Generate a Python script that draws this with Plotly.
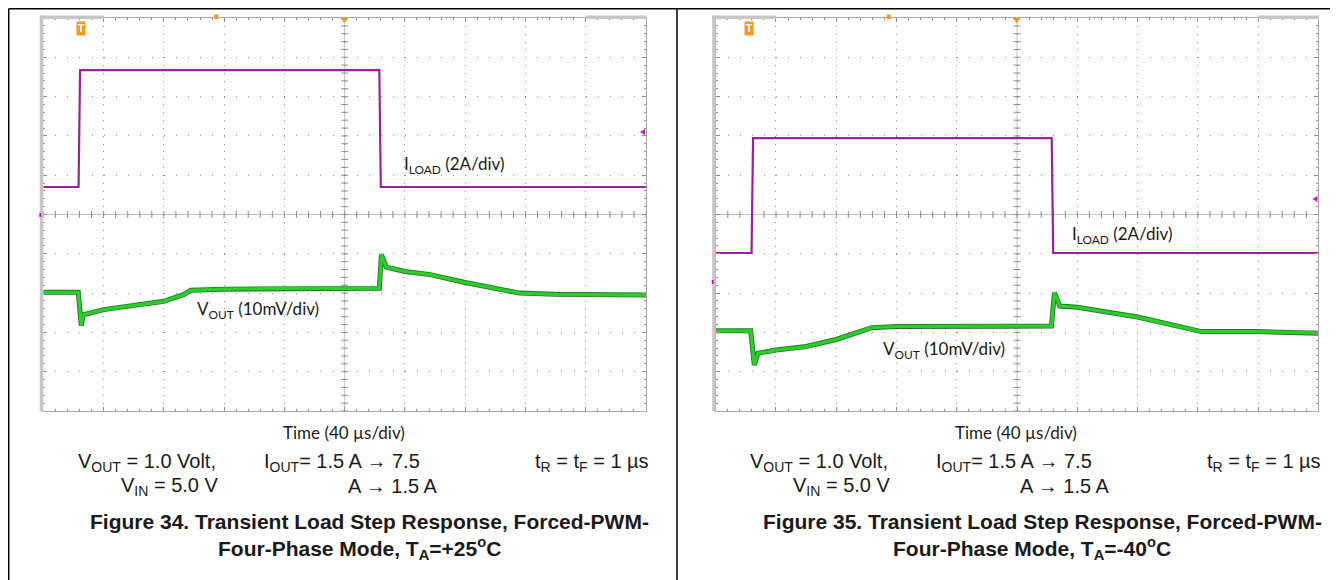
"""
Two oscilloscope captures: transient load step response (Figure 34 / 35).
"""
import numpy as np
import plotly.graph_objects as go

# the page body keeps an 8 px margin, so the figure is 8 px smaller each way
PAGE_OFF = 8
W, H = 1338 - PAGE_OFF, 580 - PAGE_OFF

# ---- data (time in us, 40 us/div) ----
# Figure 34, TA = +25 C
iload_t_25 = [0, 23.4, 24.4, 223.0, 224.0, 400]
iload_a_25 = [1.5, 1.5, 7.45, 7.45, 1.5, 1.5]
vout_t_25 = [0, 23.2, 25.2, 26.4, 40, 60, 80, 93, 98, 120, 160, 223.0,
             224.4, 227.6, 240, 256.8, 280, 316, 340, 400]
vout_mv_25 = [0.2, 0.2, -8.3, -5.5, -4.2, -3.2, -2.1, -0.4, 0.7, 1.0, 1.2, 1.2,
              9.8, 6.6, 5.5, 4.7, 2.7, 0.0, -0.3, -0.5]

# Figure 35, TA = -40 C
iload_t_m40 = [0, 23.8, 24.8, 223.0, 224.0, 400]
iload_a_m40 = [1.5, 1.5, 7.35, 7.35, 1.5, 1.5]
vout_t_m40 = [0, 23.2, 25.6, 28, 40, 60, 80, 103.6, 120, 160, 222.8,
              224.8, 228.4, 240, 280, 322.4, 360, 400]
vout_mv_m40 = [0.4, 0.4, -8.3, -5.3, -4.5, -3.6, -1.8, 1.2, 1.5, 1.6, 1.6,
               10.1, 6.7, 6.4, 3.9, 0.2, 0.2, -0.2]

MAGENTA = "#9c1f9c"
GREEN = "#2bcf2b"
GREEN_DARK = "#257a25"
GRID = "#8c8c8c"


def px(x):
    return (x - PAGE_OFF) / W


def py(y):
    return 1 - (y - PAGE_OFF) / H


panels = [
    dict(dx=0.0, it=iload_t_25, ia=iload_a_25, vt=vout_t_25, vm=vout_mv_25,
         i_off=4.95, v_off=3.0, fig_no="34", temp="+25",
         iload_lbl=(401.7, 165), vout_lbl=(195, 310), chmark=(215, 132)),
    dict(dx=672.4, it=iload_t_m40, ia=iload_a_m40, vt=vout_t_m40, vm=vout_mv_m40,
         i_off=3.27, v_off=2.0, fig_no="35", temp="-40",
         iload_lbl=(1070, 235), vout_lbl=(881, 350), chmark=(282, 199)),
]

fig = go.Figure()
shapes = []
annotations = []

for k, p in enumerate(panels):
    sfx = "" if k == 0 else str(k + 1)
    xa, ya = "x" + sfx, "y" + sfx
    dx = p["dx"]
    gx0, gx1 = 43.3 + dx, 646.0 + dx

    # graticule centre ticks
    fig.add_trace(go.Scatter(x=np.arange(0, 401, 8), y=[5] * 51, xaxis=xa, yaxis=ya,
                             mode="markers", hoverinfo="skip",
                             marker=dict(symbol="line-ns", size=5, line=dict(width=1, color=GRID))))
    fig.add_trace(go.Scatter(x=[200] * 51, y=np.arange(0, 10.01, 0.2), xaxis=xa, yaxis=ya,
                             mode="markers", hoverinfo="skip",
                             marker=dict(symbol="line-ew", size=5, line=dict(width=1, color=GRID))))

    # channel traces: ILOAD 2 A/div, VOUT 10 mV/div
    fig.add_trace(go.Scatter(x=p["it"], y=[p["i_off"] + a / 2 for a in p["ia"]],
                             xaxis=xa, yaxis=ya, mode="lines",
                             line=dict(color=MAGENTA, width=2.2)))
    vy = [p["v_off"] + m / 10 for m in p["vm"]]
    fig.add_trace(go.Scatter(x=p["vt"], y=vy, xaxis=xa, yaxis=ya, mode="lines",
                             line=dict(color=GREEN_DARK, width=5)))
    fig.add_trace(go.Scatter(x=p["vt"], y=vy, xaxis=xa, yaxis=ya, mode="lines",
                             line=dict(color=GREEN, width=3.2)))

    axis_common = dict(showticklabels=False, zeroline=False, showline=True,
                       linecolor="#a8a8a8", mirror="ticks", ticks="inside",
                       ticklen=4, tickcolor=GRID, gridcolor=GRID, gridwidth=1,
                       fixedrange=True)
    fig.update_layout(**{
        "xaxis" + sfx: dict(axis_common, domain=[px(gx0), px(gx1)], range=[0, 400],
                            tick0=0, dtick=40, griddash="1px,6.85px", anchor=ya,
                            minor=dict(dtick=8, ticks="inside", ticklen=2, tickcolor=GRID)),
        "yaxis" + sfx: dict(axis_common, domain=[py(411), py(18)], range=[0, 10],
                            tick0=0, dtick=1, griddash="1px,11.05px", anchor=xa,
                            minor=dict(dtick=0.2, ticks="inside", ticklen=2, tickcolor=GRID)),
    })

    # centre cross lines
    shapes.append(dict(type="line", xref=xa, yref=ya, x0=200, x1=200, y0=0, y1=10,
                       line=dict(color="#c4c4c4", width=1), layer="below"))
    shapes.append(dict(type="line", xref=xa, yref=ya, x0=0, x1=400, y0=5, y1=5,
                       line=dict(color="#c4c4c4", width=1), layer="below"))

    # scope screen decorations
    shapes.append(dict(type="rect", xref="paper", yref="paper", x0=px(gx0 - 3.5), x1=px(gx0),
                       y0=py(411), y1=py(15.5), fillcolor="#c6c6c6", line_width=0))
    shapes.append(dict(type="rect", xref="paper", yref="paper", x0=px(gx0 - 3.5), x1=px(104 + dx),
                       y0=py(19), y1=py(15.5), fillcolor="#c6c6c6", line_width=0))
    shapes.append(dict(type="rect", xref="paper", yref="paper", x0=px(585.5 + dx), x1=px(gx1 + 0.5),
                       y0=py(19), y1=py(15.5), fillcolor="#c6c6c6", line_width=0))
    ym, yc = p["chmark"]
    shapes.append(dict(type="path", xref="paper", yref="paper",
                       path=f"M {px(gx1 - 6)} {py(yc)} L {px(gx1 - 1)} {py(yc - 3)} "
                            f"L {px(gx1 - 1)} {py(yc + 3)} Z",
                       fillcolor="#c020c0", line_width=0))
    shapes.append(dict(type="rect", xref="paper", yref="paper", x0=px(gx0 - 4), x1=px(gx0 - 2),
                       y0=py(ym + 2), y1=py(ym - 2), fillcolor="#c020c0", line_width=0))
    # trigger markers
    shapes.append(dict(type="path", xref="paper", yref="paper",
                       path=f"M {px(gx0 + 297)} {py(18)} L {px(gx0 + 305)} {py(18)} "
                            f"L {px(gx0 + 301)} {py(23)} Z",
                       fillcolor="#f29a1a", line_width=0))
    shapes.append(dict(type="rect", xref="paper", yref="paper", x0=px(gx0 + 171), x1=px(gx0 + 175),
                       y0=py(19), y1=py(14.5), fillcolor="#f29a1a", line_width=0))
    annotations.append(dict(x=px(gx0 + 33), y=py(28), xref="paper", yref="paper",
                            text="<b>T</b>", showarrow=False, bgcolor="#f29a1a",
                            font=dict(family="Liberation Sans", size=10, color="white"),
                            borderpad=1))

    # trace labels
    lx, ly = p["iload_lbl"]
    annotations.append(dict(x=px(lx), y=py(ly), xref="paper", yref="paper",
                            xanchor="left", yanchor="middle", showarrow=False,
                            text="I<sub>LOAD</sub> (2A/div)",
                            font=dict(family="Lato", size=17, color="#1a1a1a")))
    lx, ly = p["vout_lbl"]
    annotations.append(dict(x=px(lx), y=py(ly), xref="paper", yref="paper",
                            xanchor="left", yanchor="middle", showarrow=False,
                            text="V<sub>OUT</sub> (10mV/div)",
                            font=dict(family="Lato", size=17, color="#1a1a1a")))

    # texts below the capture
    cond = dict(family="Liberation Sans", size=20, color="#1a1a1a")
    cap = dict(family="Liberation Sans", size=21, color="#1a1a1a")
    annotations += [
        dict(x=px(344 + dx), y=py(432), xanchor="center", text="Time (40 µs/div)",
             font=dict(family="Lato", size=17, color="#1a1a1a")),
        dict(x=px(218 + dx), y=py(462), xanchor="right",
             text="V<sub>OUT</sub> = 1.0 Volt,", font=cond),
        dict(x=px(220 + dx), y=py(486), xanchor="right",
             text="V<sub>IN</sub> = 5.0 V", font=cond),
        dict(x=px(262 + dx), y=py(462), xanchor="left",
             text="I<sub>OUT</sub>= 1.5 A → 7.5", font=cond),
        dict(x=px(440 + dx), y=py(486), xanchor="right",
             text="A → 1.5 A", font=cond),
        dict(x=px(533 + dx), y=py(462), xanchor="left",
             text="t<sub>R</sub> = t<sub>F</sub> = 1 µs", font=cond),
        dict(x=px(370 + dx), y=py(521), xanchor="center",
             text=f"<b>Figure {p['fig_no']}. Transient Load Step Response, Forced-PWM-</b>",
             font=cap),
        dict(x=px(360 + dx), y=py(548), xanchor="center",
             text=f"<b>Four-Phase Mode, T<sub>A</sub>={p['temp']}<sup>o</sup>C</b>",
             font=cap),
    ]

for a in annotations:
    a.setdefault("xref", "paper")
    a.setdefault("yref", "paper")
    a.setdefault("showarrow", False)
    a.setdefault("yanchor", "middle")

# page frame
shapes += [
    dict(type="line", xref="paper", yref="paper", x0=px(8.7), x1=1, y0=py(8.7), y1=py(8.7),
         line=dict(color="black", width=1.5)),
    dict(type="line", xref="paper", yref="paper", x0=px(8.7), x1=px(8.7), y0=py(8.7), y1=0,
         line=dict(color="black", width=1.5)),
    dict(type="line", xref="paper", yref="paper", x0=px(677), x1=px(677), y0=py(8.7), y1=0,
         line=dict(color="black", width=1.5)),
]

fig.update_layout(
    width=W, height=H,
    margin=dict(l=0, r=0, t=0, b=0),
    paper_bgcolor="white",
    plot_bgcolor="white",
    showlegend=False,
    shapes=shapes,
    annotations=annotations,
)

fig.write_html("out.html")
